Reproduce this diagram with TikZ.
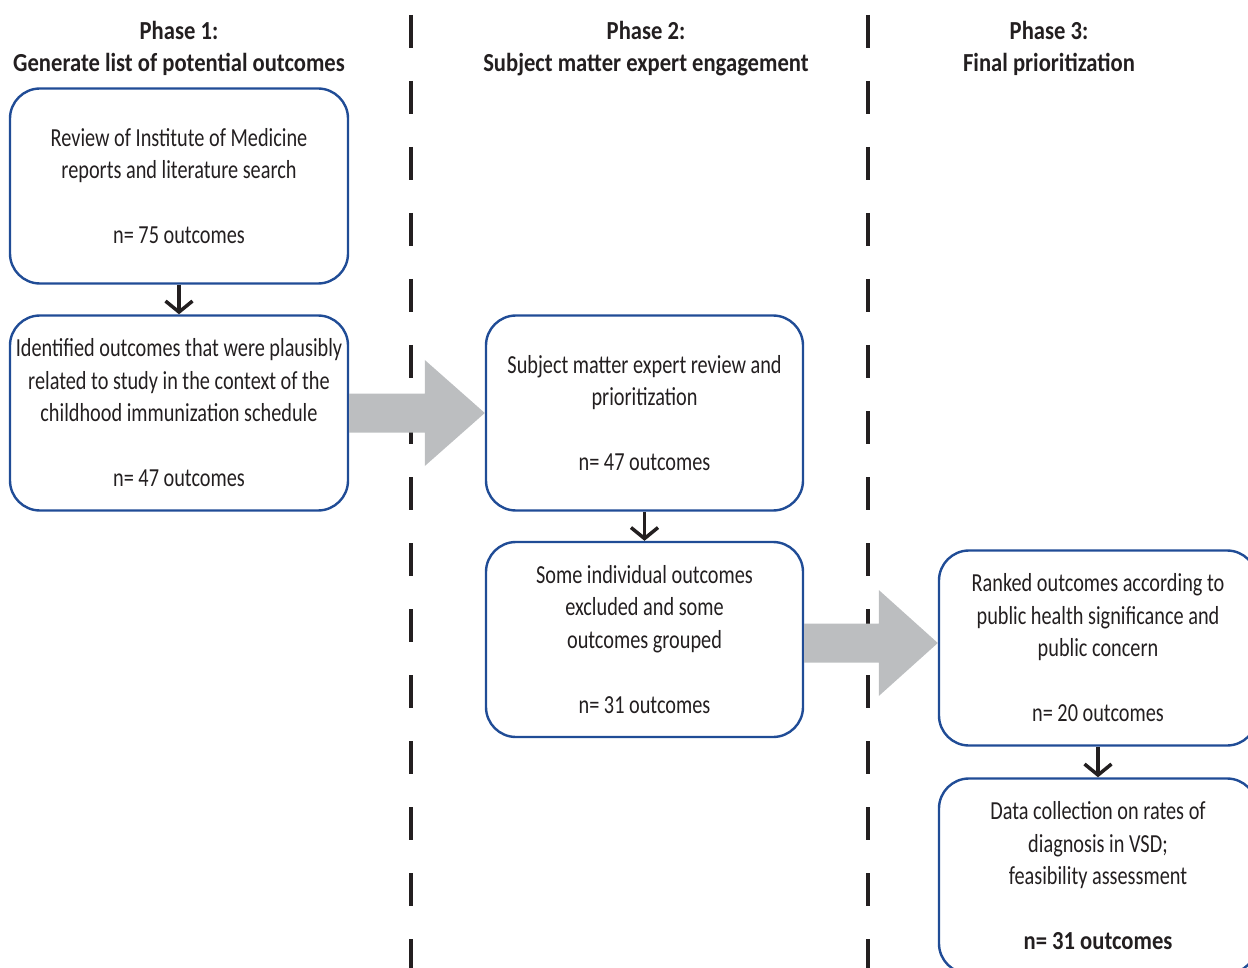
\documentclass[tikz,border=0pt]{standalone}
\usepackage{fontspec}
\setmainfont{Carlito}[FakeStretch=0.78]
\newfontfamily\headfont{Carlito}[FakeStretch=0.87]
\usetikzlibrary{calc,arrows.meta}
\definecolor{boxblue}{RGB}{32,76,150}
\definecolor{arrgray}{RGB}{188,190,192}
\definecolor{ink}{RGB}{35,31,32}
\tikzset{
  outbox/.style={draw=boxblue, line width=2.4pt, rounded corners=30pt, minimum height=195pt,
    align=center, text=ink, inner sep=0pt, font=\fontsize{26}{32.5}\selectfont},
  phase/.style={align=center, text=ink, font=\headfont\bfseries\fontsize{26}{32}\selectfont},
  downarr/.style={ink, line width=3.5pt, -{Straight Barb[length=11pt,width=27pt,line width=3.5pt]}},
  bigarr/.style={fill=arrgray, draw=none},
  divider/.style={ink, line width=4.5pt, dash pattern=on 33pt off 33pt}
}
\begin{document}
\begin{tikzpicture}[x=1pt,y=-1pt]
\useasboundingbox (0,0) rectangle (1248,968);
% phase dividers
\draw[divider] (411,15)--(411,968);
\draw[divider] (868,15)--(868,968);
% headings
\node[phase] (ph1) at (179,48.5) {Phase 1:\\Generate list of potential outcomes};
\node[phase] (ph2) at (646,48.5) {Phase 2:\\Subject matter expert engagement};
\node[phase] (ph3) at (1049,48.5) {Phase 3:\\Final prioritization};
% phase 1
\node[outbox, minimum width=338pt] (rev) at (179,186)
  {Review of Institute of Medicine\\reports and literature search\\[32.5pt]n= 75 outcomes};
\node[outbox, minimum width=338pt] (ident) at (179,413)
  {Identified outcomes that were plausibly\\related to study in the context of the\\childhood immunization schedule\\[32.5pt]n= 47 outcomes};
% phase 2
\node[outbox, minimum width=317pt] (sme) at (644.5,413)
  {Subject matter expert review and\\prioritization\\[32.5pt]n= 47 outcomes};
\node[outbox, minimum width=317pt] (excl) at (644.5,639.5)
  {Some individual outcomes\\excluded and some\\outcomes grouped\\[32.5pt]n= 31 outcomes};
% phase 3
\node[outbox, minimum width=318pt] (rank) at (1098,648)
  {Ranked outcomes according to\\public health significance and\\public concern\\[32.5pt]n= 20 outcomes};
\node[outbox, minimum width=318pt] (data) at (1098,876)
  {Data collection on rates of\\diagnosis in VSD;\\feasibility assessment\\[32.5pt]{\headfont\bfseries n= 31 outcomes}};
% arrows within a phase
\draw[downarr] (rev.south)--(ident.north);
\draw[downarr] (sme.south)--(excl.north);
\draw[downarr] (rank.south)--(data.north);
% arrows between phases
\fill[bigarr] ($(ident.east)+(0,-19.5)$) -- ($(sme.west)+(-60,-19.5)$) -- ($(sme.west)+(-60,-53)$)
  -- (sme.west) -- ($(sme.west)+(-60,53)$) -- ($(sme.west)+(-60,19.5)$) -- ($(ident.east)+(0,19.5)$) -- cycle;
\coordinate (tip2) at ($(rank.west)+(0,-5)$);
\fill[bigarr] ($(excl.east|-tip2)+(0,-19.5)$) -- ($(tip2)+(-59,-19.5)$) -- ($(tip2)+(-59,-53)$)
  -- (tip2) -- ($(tip2)+(-59,53)$) -- ($(tip2)+(-59,19.5)$) -- ($(excl.east|-tip2)+(0,19.5)$) -- cycle;
\end{tikzpicture}
\end{document}
